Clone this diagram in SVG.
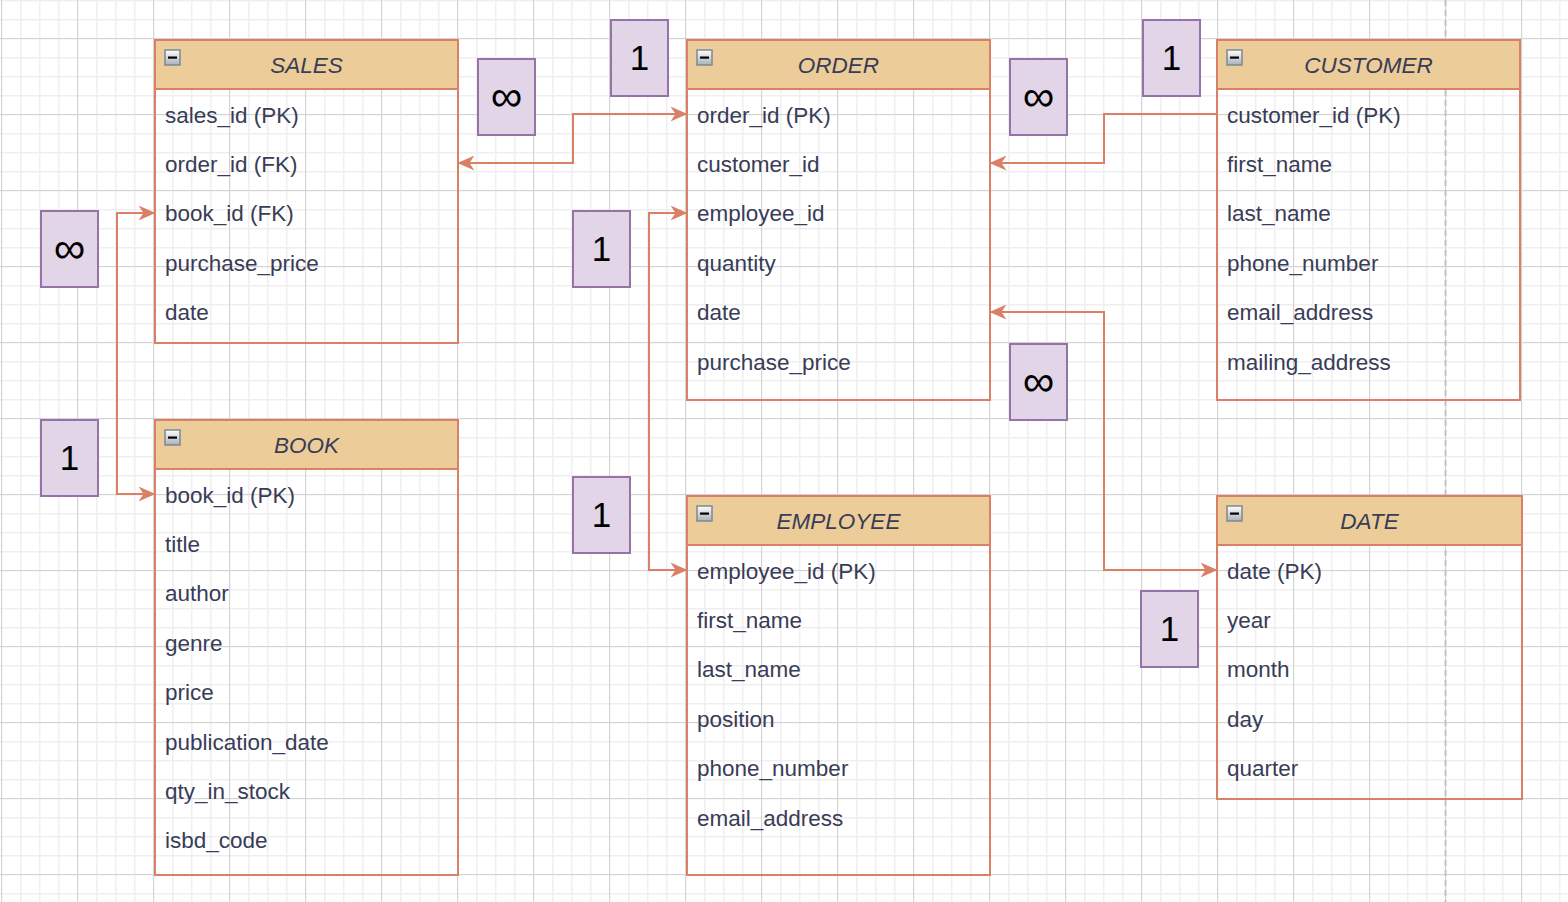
<svg xmlns="http://www.w3.org/2000/svg" width="1568" height="902" viewBox="0 0 1568 902">
<style>
.tbl{fill:none;stroke:#DA8067;stroke-width:2}
.hdr{fill:#ECCD99;stroke:#DA8067;stroke-width:2}
.title{font-family:"Liberation Sans",Arial,sans-serif;font-size:22.5px;font-style:italic;fill:#393C56;text-anchor:middle}
.row{font-family:"Liberation Sans",Arial,sans-serif;font-size:22.5px;fill:#393C56}
.lbl{fill:#E1D5E7;stroke:#9673A6;stroke-width:2}
.lt{font-family:"Liberation Sans",Arial,sans-serif;font-size:35px;fill:#000;text-anchor:middle}
.inf{font-size:44px}
.con{fill:none;stroke:#DA8067;stroke-width:2}
.ico{fill:url(#ig);stroke:#7E8894;stroke-width:1.5}
</style>
<defs>
<pattern id="minor" x="1" y="0" width="19" height="19" patternUnits="userSpaceOnUse">
<path d="M0.5,0 V19 M0,0.5 H19" stroke="#EFEFEF" stroke-width="2" fill="none"/>
</pattern>
<pattern id="major" x="1" y="38" width="76" height="76" patternUnits="userSpaceOnUse">
<path d="M0.5,0 V76 M0,0.5 H76" stroke="#D3D3D3" stroke-width="1" fill="none"/>
</pattern>
<linearGradient id="ig" x1="0" y1="0" x2="0" y2="1">
<stop offset="0" stop-color="#FFFFFF"/>
<stop offset="1" stop-color="#A9B0B8"/>
</linearGradient>
<marker id="arr" viewBox="0 0 17 15" refX="16.5" refY="7.5" markerWidth="17" markerHeight="15" markerUnits="userSpaceOnUse" orient="auto-start-reverse">
<path d="M0,0 L17,7.5 L0,15 L5,7.5 Z" fill="#DA8067"/>
</marker>
<g id="icon">
<rect x="0" y="0" width="15" height="15" class="ico"/>
<rect x="3" y="6.5" width="9" height="2.2" fill="#000"/>
</g>
</defs>
<rect width="1568" height="902" fill="#FFFFFF"/>
<rect width="1568" height="902" fill="url(#minor)"/>
<rect width="1568" height="902" fill="url(#major)"/>
<line x1="1445.5" y1="0" x2="1445.5" y2="902" stroke="#C3C3C3" stroke-width="2" stroke-dasharray="6,4"/>

<g id="connectors">
<path class="con" d="M458,163 H573 V114 H687" marker-start="url(#arr)" marker-end="url(#arr)"/>
<path class="con" d="M1217,114 H1104 V163 H990" marker-end="url(#arr)"/>
<path class="con" d="M687,213 H649 V570 H687" marker-start="url(#arr)" marker-end="url(#arr)"/>
<path class="con" d="M155,213 H117 V494 H155" marker-start="url(#arr)" marker-end="url(#arr)"/>
<path class="con" d="M990,312 H1104 V570 H1217" marker-start="url(#arr)" marker-end="url(#arr)"/>
</g>

<g id="sales">
<rect class="hdr" x="155" y="40" width="303" height="49"/>
<rect class="tbl" x="155" y="40" width="303" height="303"/>
<use href="#icon" x="165" y="50"/>
<text class="title" x="306.5" y="73">SALES</text>
<text class="row" x="165" y="123">sales_id (PK)</text>
<text class="row" x="165" y="172">order_id (FK)</text>
<text class="row" x="165" y="221">book_id (FK)</text>
<text class="row" x="165" y="271">purchase_price</text>
<text class="row" x="165" y="320">date</text>
</g>

<g id="order">
<rect class="hdr" x="687" y="40" width="303" height="49"/>
<rect class="tbl" x="687" y="40" width="303" height="360"/>
<use href="#icon" x="697" y="50"/>
<text class="title" x="838.5" y="73">ORDER</text>
<text class="row" x="697" y="123">order_id (PK)</text>
<text class="row" x="697" y="172">customer_id</text>
<text class="row" x="697" y="221">employee_id</text>
<text class="row" x="697" y="271">quantity</text>
<text class="row" x="697" y="320">date</text>
<text class="row" x="697" y="370">purchase_price</text>
</g>

<g id="customer">
<rect class="hdr" x="1217" y="40" width="303" height="49"/>
<rect class="tbl" x="1217" y="40" width="303" height="360"/>
<use href="#icon" x="1227" y="50"/>
<text class="title" x="1368.5" y="73">CUSTOMER</text>
<text class="row" x="1227" y="123">customer_id (PK)</text>
<text class="row" x="1227" y="172">first_name</text>
<text class="row" x="1227" y="221">last_name</text>
<text class="row" x="1227" y="271">phone_number</text>
<text class="row" x="1227" y="320">email_address</text>
<text class="row" x="1227" y="370">mailing_address</text>
</g>

<g id="book">
<rect class="hdr" x="155" y="420" width="303" height="49"/>
<rect class="tbl" x="155" y="420" width="303" height="455"/>
<use href="#icon" x="165" y="430"/>
<text class="title" x="306.5" y="453">BOOK</text>
<text class="row" x="165" y="503">book_id (PK)</text>
<text class="row" x="165" y="552">title</text>
<text class="row" x="165" y="601">author</text>
<text class="row" x="165" y="651">genre</text>
<text class="row" x="165" y="700">price</text>
<text class="row" x="165" y="750">publication_date</text>
<text class="row" x="165" y="799">qty_in_stock</text>
<text class="row" x="165" y="848">isbd_code</text>
</g>

<g id="employee">
<rect class="hdr" x="687" y="496" width="303" height="49"/>
<rect class="tbl" x="687" y="496" width="303" height="379"/>
<use href="#icon" x="697" y="506"/>
<text class="title" x="838.5" y="529">EMPLOYEE</text>
<text class="row" x="697" y="579">employee_id (PK)</text>
<text class="row" x="697" y="628">first_name</text>
<text class="row" x="697" y="677">last_name</text>
<text class="row" x="697" y="727">position</text>
<text class="row" x="697" y="776">phone_number</text>
<text class="row" x="697" y="826">email_address</text>
</g>

<g id="date">
<rect class="hdr" x="1217" y="496" width="305" height="49"/>
<rect class="tbl" x="1217" y="496" width="305" height="303"/>
<use href="#icon" x="1227" y="506"/>
<text class="title" x="1369.5" y="529">DATE</text>
<text class="row" x="1227" y="579">date (PK)</text>
<text class="row" x="1227" y="628">year</text>
<text class="row" x="1227" y="677">month</text>
<text class="row" x="1227" y="727">day</text>
<text class="row" x="1227" y="776">quarter</text>
</g>

<g id="label-sales-order-many"><rect class="lbl" x="478" y="59" width="57" height="76"/><text class="lt inf" x="506.5" y="111">∞</text></g>
<g id="label-order-sales-one"><rect class="lbl" x="611" y="20" width="57" height="76"/><text class="lt" x="639.5" y="70">1</text></g>
<g id="label-order-customer-many"><rect class="lbl" x="1010" y="59" width="57" height="76"/><text class="lt inf" x="1038.5" y="111">∞</text></g>
<g id="label-customer-one"><rect class="lbl" x="1143" y="20" width="57" height="76"/><text class="lt" x="1171.5" y="70">1</text></g>
<g id="label-sales-book-many"><rect class="lbl" x="41" y="211" width="57" height="76"/><text class="lt inf" x="69.5" y="263">∞</text></g>
<g id="label-book-one"><rect class="lbl" x="41" y="420" width="57" height="76"/><text class="lt" x="69.5" y="470">1</text></g>
<g id="label-order-employee-one"><rect class="lbl" x="573" y="211" width="57" height="76"/><text class="lt" x="601.5" y="261">1</text></g>
<g id="label-employee-one"><rect class="lbl" x="573" y="477" width="57" height="76"/><text class="lt" x="601.5" y="527">1</text></g>
<g id="label-order-date-many"><rect class="lbl" x="1010" y="344" width="57" height="76"/><text class="lt inf" x="1038.5" y="396">∞</text></g>
<g id="label-date-one"><rect class="lbl" x="1141" y="591" width="57" height="76"/><text class="lt" x="1169.5" y="641">1</text></g>
</svg>
